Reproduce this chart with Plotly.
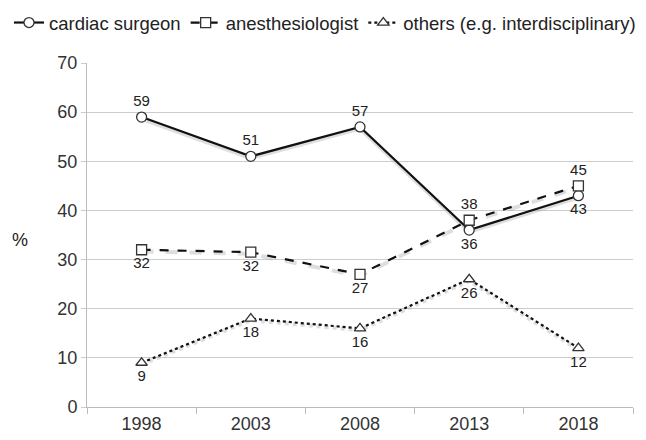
import plotly.graph_objects as go

years = ["1998", "2003", "2008", "2013", "2018"]
cardiac = [59, 51, 57, 36, 43]
anesth = [32, 31.5, 27, 38, 45]
anesth_labels = ["32", "32", "27", "38", "45"]
others = [9, 18, 16, 26, 12]
y_ticks = [0, 10, 20, 30, 40, 50, 60, 70]

FONT = "Liberation Sans, Arial, sans-serif"
L, R, T, B, W, H = 87, 13, 63, 33, 646, 440
PW, PH = W - L - R, H - T - B

fig = go.Figure()

# soft shadows under lines
for vals, dash in [(cardiac, "solid"), (anesth, "dash"), (others, "dot")]:
    fig.add_trace(go.Scatter(x=years, y=[v - 0.35 for v in vals], mode="lines",
                             line=dict(color="rgba(160,160,160,0.35)", width=4, dash=dash),
                             showlegend=False, hoverinfo="skip"))

marker_line = dict(color="#333333", width=1.3)
fig.add_trace(go.Scatter(
    x=years, y=cardiac, name="cardiac surgeon", mode="lines+markers+text",
    line=dict(color="#111111", width=2.2),
    marker=dict(symbol="circle", size=10, color="white", line=marker_line),
    text=[str(v) for v in cardiac],
    textposition=["top center", "top center", "top center", "bottom center", "bottom center"],
    textfont=dict(size=15, color="#222222", family=FONT)))
fig.add_trace(go.Scatter(
    x=years, y=anesth, name="anesthesiologist", mode="lines+markers+text",
    line=dict(color="#111111", width=2.2, dash="dash"),
    marker=dict(symbol="square", size=10, color="white", line=marker_line),
    text=anesth_labels,
    textposition=["bottom center", "bottom center", "bottom center", "top center", "top center"],
    textfont=dict(size=15, color="#222222", family=FONT)))
fig.add_trace(go.Scatter(
    x=years, y=others, name="others (e.g. interdisciplinary)", mode="lines+markers+text",
    line=dict(color="#111111", width=2.2, dash="dot"),
    marker=dict(symbol="triangle-up", size=10, color="white", line=marker_line),
    text=[str(v) for v in others],
    textposition="bottom center",
    textfont=dict(size=15, color="#222222", family=FONT)))

fig.update_layout(
    width=W, height=H,
    margin=dict(l=L, r=R, t=T, b=B, autoexpand=False),
    paper_bgcolor="white", plot_bgcolor="white",
    font=dict(family=FONT, color="#333333"),
    legend=dict(orientation="h", x=(9 - L) / PW, y=(H - B - 4) / PH, xanchor="left", yanchor="top",
                font=dict(size=18.5, color="#222222"), itemwidth=30, tracegroupgap=0,
                bgcolor="rgba(0,0,0,0)"),
    xaxis=dict(type="category", range=[-0.5, len(years) - 0.5], tickson="boundaries",
               ticks="outside", ticklen=6,
               tickcolor="#bbbbbb", showline=True, linecolor="#bbbbbb", linewidth=1,
               showgrid=False, automargin=False, tickfont=dict(size=18, color="#333333")),
    yaxis=dict(range=[0, 70], tickvals=y_ticks, showgrid=True, gridcolor="#cccccc",
               showline=True, linecolor="#bbbbbb", ticks="outside", ticklen=5,
               tickcolor="#cccccc", zeroline=False, automargin=False,
               tickfont=dict(size=18, color="#333333")),
    annotations=[dict(text="%", x=(20 - L) / PW, y=(H - B - 240) / PH, xref="paper", yref="paper",
                      showarrow=False, xanchor="center", yanchor="middle",
                      font=dict(size=18, color="#222222"))],
)

fig.write_html("out.html", config={"displayModeBar": False},
               post_script="document.body.style.margin='0px';")
